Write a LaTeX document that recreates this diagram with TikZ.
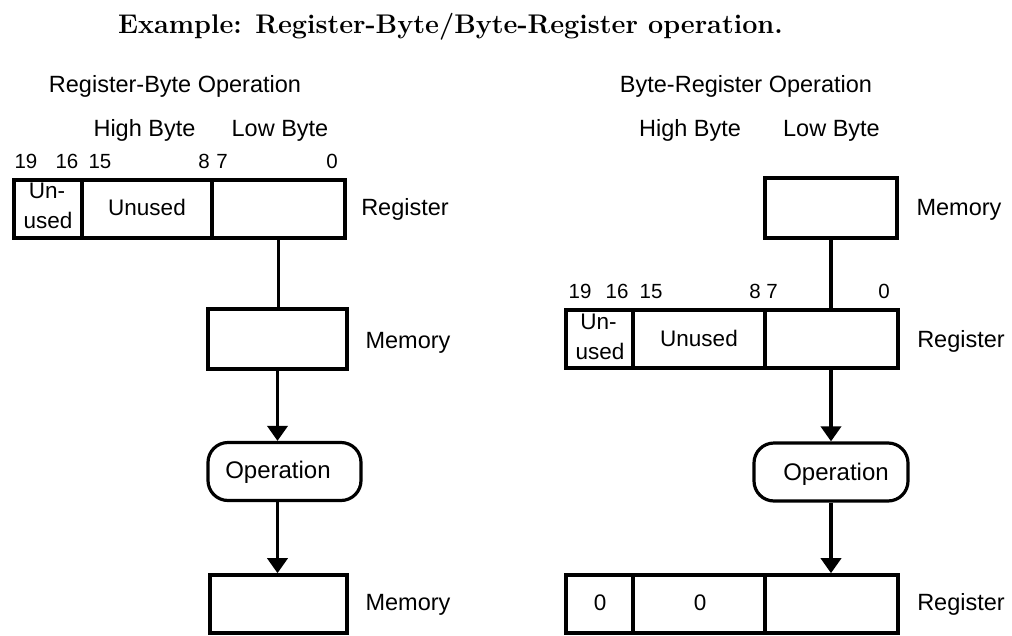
\documentclass[tikz,border=0pt]{standalone}
\usepackage{fontspec}
\newfontfamily\lsans{Liberation Sans}
\usetikzlibrary{arrows.meta}
\tikzset{
  cell/.style={draw, line width=3.6pt, inner sep=0pt, minimum height=58pt},
  opbox/.style={draw, line width=3.2pt, rounded corners=20pt, inner sep=0pt, minimum width=153pt, minimum height=58pt},
  optxt/.style={inner sep=0pt, anchor=base, font=\lsans\fontsize{24}{28}\selectfont},
  lbl/.style={inner sep=0pt, anchor=base, font=\lsans\fontsize{23.5}{28}\selectfont},
  bitlbl/.style={inner sep=0pt, anchor=base, font=\lsans\fontsize{20.5}{24}\selectfont},
  celltxt/.style={inner sep=0pt, anchor=base, font=\lsans\fontsize{22.5}{27}\selectfont},
  conn/.style={line width=3.6pt},
  arr/.style={line width=3.6pt, -{Triangle[width=20pt,length=15pt]}},
}
\begin{document}
\begin{tikzpicture}[x=1pt,y=-1pt]
\useasboundingbox (0,0) rectangle (1012,635);
% title
\node[inner sep=0pt, font=\fontsize{27}{32}\selectfont\bfseries] (title) at (450.5,27) {Example: Register-Byte/Byte-Register operation.};

% ---------- left: Register-Byte ----------
\node[lbl] (lhead) at (175,92) {Register-Byte Operation};
\node[lbl] (lhigh) at (144.5,136) {High Byte};
\node[lbl] (llow) at (280,136) {Low Byte};
\node[bitlbl] (lb19) at (26,168) {19};
\node[bitlbl] (lb16) at (67,168) {16};
\node[bitlbl] (lb15) at (100,168) {15};
\node[bitlbl] (lb8) at (204,168) {8};
\node[bitlbl] (lb7) at (222,168) {7};
\node[bitlbl] (lb0) at (332,168) {0};

\node[cell, minimum width=68pt] (lregA) at (48,209) {};
\node[cell, minimum width=130pt] (lregB) at (147,209) {};
\node[cell, minimum width=133pt] (lregC) at (278.5,209) {};
\node[celltxt] (lregA1) at (47,198.5) {Un-};
\node[celltxt] (lregA2) at (48,228.5) {used};
\node[celltxt] (lregBT) at (147,215) {Unused};
\node[lbl] (lregL) at (405,215.5) {Register};

\node[cell, minimum width=139pt, minimum height=60pt] (lmem) at (277.5,339) {};
\node[lbl] (lmemL) at (408,348) {Memory};

\node[opbox] (lop) at (284.5,471.5) {};
\node[optxt] (lopT) at (278,478.5) {Operation};

\node[cell, minimum width=137pt] (lmem2) at (278.5,604) {};
\node[lbl] (lmem2L) at (408,610.5) {Memory};

\draw[conn] (lregC.south) -- (lregC.south |- lmem.north);
\draw[arr] (lmem.south) -- (lmem.south |- lop.north);
\draw[arr] (lmem.south |- lop.south) -- (lmem.south |- lmem2.north);

% ---------- right: Byte-Register ----------
\node[lbl] (rhead) at (746,92) {Byte-Register Operation};
\node[lbl] (rhigh) at (690,136) {High Byte};
\node[lbl] (rlow) at (831.5,136) {Low Byte};

\node[cell, line width=3.2pt, minimum width=132pt, minimum height=60pt] (rmem) at (831,208) {};
\node[lbl] (rmemL) at (959,215.5) {Memory};

\node[bitlbl] (rb19) at (580,298) {19};
\node[bitlbl] (rb16) at (617,298) {16};
\node[bitlbl] (rb15) at (651,298) {15};
\node[bitlbl] (rb8) at (755,298) {8};
\node[bitlbl] (rb7) at (772,298) {7};
\node[bitlbl] (rb0) at (884,298) {0};

\node[cell, minimum width=67pt] (rregA) at (599.5,339) {};
\node[cell, minimum width=132pt] (rregB) at (699,339) {};
\node[cell, minimum width=133pt] (rregC) at (831.5,339) {};
\node[celltxt] (rregA1) at (598.5,329.5) {Un-};
\node[celltxt] (rregA2) at (600,359.5) {used};
\node[celltxt] (rregBT) at (699,346) {Unused};
\node[lbl] (rregL) at (961,347.5) {Register};

\node[opbox, minimum width=154pt] (rop) at (831,472) {};
\node[optxt] (ropT) at (836,480) {Operation};

\node[cell, minimum width=67pt] (rreg2A) at (599.5,604) {};
\node[cell, minimum width=132pt] (rreg2B) at (699,604) {};
\node[cell, minimum width=133pt] (rreg2C) at (831.5,604) {};
\node[celltxt] (rreg2AT) at (600,610) {0};
\node[celltxt] (rreg2BT) at (700,610) {0};
\node[lbl] (rreg2L) at (961,610.5) {Register};

\draw[conn] (rmem.south) -- (rmem.south |- rregC.north);
\draw[arr] (rmem.south |- rregC.south) -- (rmem.south |- rop.north);
\draw[arr] (rmem.south |- rop.south) -- (rmem.south |- rreg2C.north);
\end{tikzpicture}
\end{document}
